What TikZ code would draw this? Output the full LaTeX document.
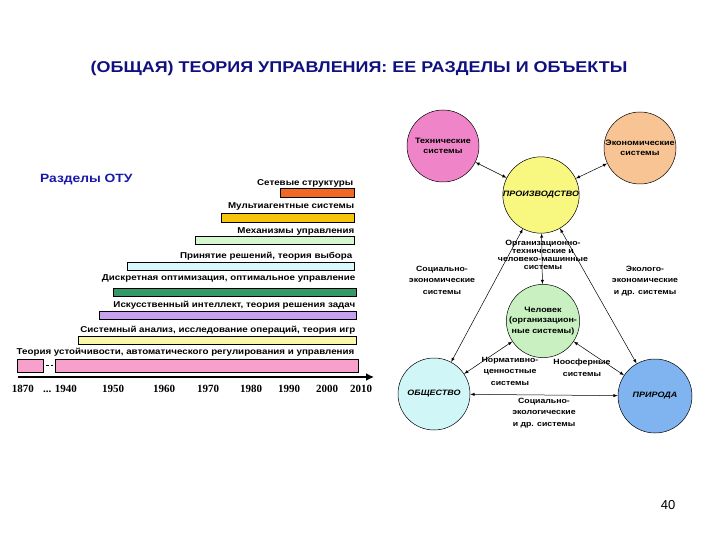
\documentclass[tikz,border=0pt]{standalone}
\usepackage{fontspec}
\setmainfont{Liberation Sans}[FakeStretch=1.15]
\newfontfamily\yearfont{Liberation Serif}
\newfontfamily\pagefont{Liberation Sans}
\usetikzlibrary{shapes,arrows,arrows.meta,positioning}

\definecolor{titleblue}{RGB}{16,16,128}
\definecolor{headblue}{RGB}{24,24,170}
\definecolor{netorange}{RGB}{240,104,36}
\definecolor{agentyellow}{RGB}{246,196,10}
\definecolor{mechgreen}{RGB}{214,246,208}
\definecolor{choicecyan}{RGB}{216,248,252}
\definecolor{optgreen}{RGB}{52,152,104}
\definecolor{aililac}{RGB}{200,160,240}
\definecolor{sysyellow}{RGB}{248,248,168}
\definecolor{stabpink}{RGB}{248,160,204}
\definecolor{techpink}{RGB}{240,132,200}
\definecolor{econpeach}{RGB}{248,196,148}
\definecolor{prodyellow}{RGB}{248,248,128}
\definecolor{humangreen}{RGB}{200,240,192}
\definecolor{societycyan}{RGB}{208,246,248}
\definecolor{natureblue}{RGB}{128,180,240}

\begin{document}
\begin{tikzpicture}[
    x=1pt,
    y=-1pt,
    bar/.style={
        rectangle,
        draw=black,
        line width=0.5pt,
        inner sep=0pt,
        minimum height=8pt,
        anchor=west
    },
    barlabel/.style={
        inner sep=0pt,
        text height=6.5pt,
        text depth=2pt,
        font=\bfseries\fontsize{8.5}{9}\selectfont
    },
    year/.style={
        inner sep=0pt,
        font=\yearfont\bfseries\fontsize{11}{12}\selectfont
    },
    object/.style={
        circle,
        draw=black,
        line width=0.5pt,
        minimum size=72pt,
        inner sep=0pt,
        align=center,
        font=\bfseries\fontsize{7.8}{10}\selectfont
    },
    linklabel/.style={
        inner sep=0pt,
        align=center,
        font=\bfseries\fontsize{7.6}{11.5}\selectfont
    },
    arrow/.style={
        <->,
        >=latex,
        line width=0.5pt
    }
]
\useasboundingbox (0,0) rectangle (720,540);

% Title
\node[font=\bfseries\fontsize{15.6}{17}\selectfont, text=titleblue] (title) at (359,68) {(ОБЩАЯ) ТЕОРИЯ УПРАВЛЕНИЯ: ЕЕ РАЗДЕЛЫ И ОБЪЕКТЫ};
\node[font=\bfseries\fontsize{12}{14}\selectfont, text=headblue, anchor=west, inner sep=0pt] (otu_head) at (40,180) {Разделы ОТУ};

% Sections (bars)
\node[bar, fill=netorange, minimum width=74pt, minimum height=9pt] (net_bar) at (280,192.5) {};
\node[bar, fill=agentyellow, minimum width=133pt, minimum height=9pt] (agent_bar) at (221,217.5) {};
\node[bar, fill=mechgreen, minimum width=159pt] (mech_bar) at (195,240.5) {};
\node[bar, fill=choicecyan, minimum width=227pt] (choice_bar) at (127,266) {};
\node[bar, fill=optgreen, minimum width=243pt] (opt_bar) at (113,292) {};
\node[bar, fill=aililac, minimum width=257pt] (ai_bar) at (99,315.5) {};
\node[bar, fill=sysyellow, minimum width=278pt] (sys_bar) at (78,340) {};
\node[bar, fill=stabpink, minimum width=26pt, minimum height=13pt] (stab_bar_a) at (17,365.5) {};
\node[bar, fill=stabpink, minimum width=303pt, minimum height=13pt] (stab_bar_b) at (55,365.5) {};
\draw[densely dashed, line width=0.8pt, shorten <=2pt, shorten >=2pt] (stab_bar_a) -- (stab_bar_b);

% Section labels
\node[barlabel, above left=0pt and 1pt of net_bar.north east] (net_label) {Сетевые структуры};
\node[barlabel, above left=2pt and 0pt of agent_bar.north east] (agent_label) {Мультиагентные системы};
\node[barlabel, above left=1pt and 0pt of mech_bar.north east] (mech_label) {Механизмы управления};
\node[barlabel, above left=1pt and 2pt of choice_bar.north east] (choice_label) {Принятие решений, теория выбора};
\node[barlabel, above left=5pt and 1pt of opt_bar.north east] (opt_label) {Дискретная оптимизация, оптимальное управление};
\node[barlabel, above left=2pt and 1pt of ai_bar.north east] (ai_label) {Искусственный интеллект, теория решения задач};
\node[barlabel, above left=1pt and 1pt of sys_bar.north east] (sys_label) {Системный анализ, исследование операций, теория игр};
\node[barlabel, above left=2pt and 4pt of stab_bar_b.north east] (stab_label) {Теория устойчивости, автоматического регулирования и управления};

% Time axis
\coordinate (time_start) at (18,377);
\coordinate (time_end) at (374,377);
\draw[line width=2.5pt, -{Latex[length=8pt,width=8pt]}] (time_start) -- (time_end);
\node[year] (y1870) at (23,389) {1870};
\node[year] (y1940) at (60,389) {... 1940};
\node[year] (y1950) at (113,389) {1950};
\node[year] (y1960) at (164,389) {1960};
\node[year] (y1970) at (208,389) {1970};
\node[year] (y1980) at (251,389) {1980};
\node[year] (y1990) at (289,389) {1990};
\node[year] (y2000) at (327,389) {2000};
\node[year] (y2010) at (361,389) {2010};

% Objects
\node[object, fill=techpink] (tech) at (443,146) {Технические\\системы};
\node[object, fill=econpeach] (econ) at (640,148) {Экономические\\системы};
\node[object, fill=prodyellow] (prod) at (541,195) {\itshape ПРОИЗВОДСТВО};
\node[object, fill=humangreen, font=\bfseries\fontsize{7.8}{10.5}\selectfont] (human) at (543,321) {Человек\\(организацион-\\ные системы)};
\node[object, fill=societycyan] (society) at (434,394) {\itshape ОБЩЕСТВО};
\node[object, fill=natureblue, minimum size=74pt] (nature) at (655,396) {\itshape ПРИРОДА};

% Systems between objects
\node[linklabel, font=\bfseries\fontsize{7.6}{8}\selectfont, above=14pt of human] (orgtech) {Организационно-\\технические и\\человеко-машинные\\системы};
\node[linklabel] (soc_econ) at (442,280) {Социально-\\экономические\\системы};
\node[linklabel] (eco_econ) at (645,281) {Эколого-\\экономические\\и др. системы};
\node[linklabel] (norm) at (510,371) {Нормативно-\\ценностные\\системы};
\node[linklabel] (noos) at (582,368) {Ноосферные\\системы};
\node[linklabel] (soc_eco) at (544,413) {Социально-\\экологические\\и др. системы};

% Connections
\draw[arrow] (tech) -- (prod);
\draw[arrow] (econ) -- (prod);
\draw[arrow] (human) -- (prod);
\draw[arrow] (society) -- (prod);
\draw[arrow] (nature) -- (prod);
\draw[arrow] (human) -- (society);
\draw[arrow] (human) -- (nature);
\draw[arrow] (society) -- (nature);

% Page number
\node[font=\pagefont\fontsize{13}{15}\selectfont] (page_no) at (668,505) {40};

\end{tikzpicture}
\end{document}
